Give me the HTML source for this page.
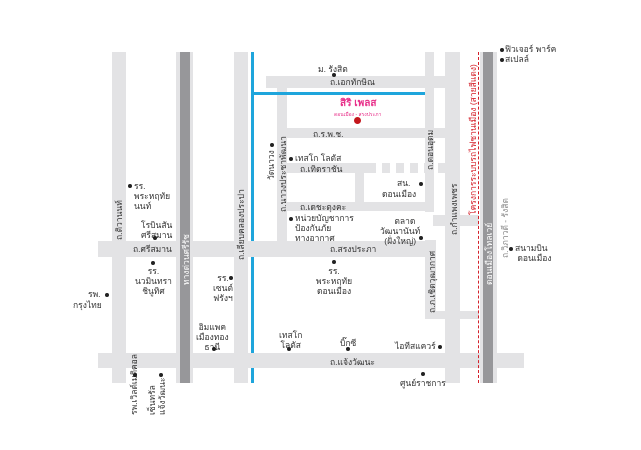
<!DOCTYPE html>
<html><head><meta charset="utf-8"><style>
body{margin:0;width:641px;height:450px;background:#fff;position:relative;overflow:hidden;font-family:"Liberation Sans","Noto Sans CJK SC",sans-serif;font-size:8.5px;color:#333;}
.r{position:absolute;background:#e3e3e5}
.d{position:absolute;background:#97979a}
.t{position:absolute;line-height:10px;white-space:nowrap}
.v{position:absolute;white-space:nowrap;transform:rotate(-90deg);transform-origin:0 0;line-height:10px}
.p{position:absolute;width:4px;height:4px;border-radius:50%;background:#222}
</style></head><body>
<!-- horizontal roads -->
<div class="r" style="left:98px;top:241px;width:334px;height:16px"></div>
<div class="r" style="left:98px;top:353px;width:426px;height:15px"></div>
<div class="r" style="left:266px;top:76px;width:180px;height:12px"></div>
<div class="r" style="left:282px;top:128px;width:163px;height:10px"></div>
<div class="r" style="left:282px;top:163px;width:145px;height:10px"></div>
<div class="r" style="left:282px;top:202px;width:145px;height:9px"></div>
<div class="r" style="left:433px;top:215px;width:46px;height:11px"></div>
<div class="r" style="left:425px;top:311px;width:54px;height:8px"></div>
<div class="r" style="left:355px;top:173px;width:9px;height:30px"></div>
<div style="position:absolute;left:368px;top:163px;width:92px;height:10px;background:repeating-linear-gradient(90deg,#e3e3e5 0 8px,#fff 8px 14px)"></div>
<!-- vertical roads -->
<div class="r" style="left:112px;top:52px;width:14px;height:331px"></div>
<div class="r" style="left:176px;top:52px;width:17px;height:331px"></div>
<div class="d" style="left:180px;top:52px;width:10px;height:331px"></div>
<div class="r" style="left:234px;top:52px;width:14px;height:331px"></div>
<div class="r" style="left:277px;top:80px;width:10px;height:165px"></div>
<div class="r" style="left:425px;top:52px;width:9px;height:160px"></div>
<div class="r" style="left:425px;top:240px;width:11px;height:78px"></div>
<div class="r" style="left:445px;top:52px;width:15px;height:331px"></div>
<div class="r" style="left:480px;top:52px;width:17px;height:331px"></div>
<div class="d" style="left:483px;top:52px;width:10px;height:331px"></div>
<!-- blue -->
<div style="position:absolute;left:251px;top:52px;width:3px;height:331px;background:#1ea5dc"></div>
<div style="position:absolute;left:251px;top:241px;width:3px;height:16px;background:#e3e3e5"></div>
<div style="position:absolute;left:251px;top:353px;width:3px;height:15px;background:#e3e3e5"></div>
<div style="position:absolute;left:254px;top:92px;width:171px;height:3px;background:#1ea5dc"></div>
<!-- red dotted -->
<div style="position:absolute;left:478px;top:52px;width:0;height:331px;border-left:1.5px dashed #d4202a"></div>
<!-- labels -->
<div class="t" style="left:318px;top:64px">ม. รังสิต</div><div class="p" style="left:332px;top:73px"></div>
<div class="t" style="left:330px;top:77px">ถ.เอกทักษิณ</div>
<div class="t" style="left:340px;top:99px;color:#e8308a;font-weight:bold;font-size:10px">สิริ เพลส</div>
<div class="t" style="left:334px;top:110px;color:#e8308a;font-size:5px">ดอนเมือง - สรงประภา</div>
<div style="position:absolute;left:354px;top:117px;width:7px;height:7px;border-radius:50%;background:#c4161c"></div>
<div class="t" style="left:313px;top:129px">ถ.ร.พ.ช.</div>
<div class="p" style="left:289px;top:157px"></div><div class="t" style="left:295px;top:153px">เทสโก โลตัส</div>
<div class="t" style="left:300px;top:164px">ถ.เทิดราชัน</div>
<div class="t" style="left:300px;top:202px">ถ.เดชะตุงคะ</div>
<div class="t" style="left:397px;top:178px">สน.</div><div class="p" style="left:419px;top:182px"></div>
<div class="t" style="left:382px;top:189px">ดอนเมือง</div>
<div class="p" style="left:289px;top:217px"></div><div class="t" style="left:295px;top:213px;line-height:10px">หน่วยบัญชาการ<br>ป้องกันภัย<br>ทางอากาศ</div>
<div class="t" style="left:330px;top:244px">ถ.สรงประภา</div>
<div class="t" style="left:133px;top:244px">ถ.ศรีสมาน</div>
<div class="t" style="left:380px;top:216px;text-align:center;line-height:10px">&nbsp;&nbsp;&nbsp;&nbsp;ตลาด<br>วัฒนานันท์<br>(ฝั่งใหญ่)</div><div class="p" style="left:419px;top:236px"></div>
<div class="p" style="left:332px;top:260px"></div><div class="t" style="left:316px;top:266px;text-align:center">รร.<br>พระหฤทัย<br>ดอนเมือง</div>
<div class="p" style="left:128px;top:184px"></div><div class="t" style="left:134px;top:181px">รร.<br>พระหฤทัย<br>นนท์</div>
<div class="t" style="left:141px;top:220px">โรบินสัน<br>ศรีสมาน</div><div class="p" style="left:153px;top:236px"></div>
<div class="p" style="left:151px;top:261px"></div><div class="t" style="left:135px;top:266px;text-align:center">รร.<br>นวมินทรา<br>ชินูทิศ</div>
<div class="t" style="left:88px;top:289px">รพ.</div><div class="p" style="left:105px;top:293px"></div>
<div class="t" style="left:73px;top:300px">กรุงไทย</div>
<div class="t" style="left:213px;top:273px;text-align:center">รร.<br>เซนต์<br>ฟรังฯ</div><div class="p" style="left:229px;top:276px"></div>
<div class="t" style="left:196px;top:322px;text-align:center">อิมแพค<br>เมืองทอง<br>ธานี</div><div class="p" style="left:212px;top:347px"></div>
<div class="t" style="left:279px;top:330px;text-align:center">เทสโก<br>โลตัส</div><div class="p" style="left:287px;top:347px"></div>
<div class="t" style="left:340px;top:338px">บิ๊กซี</div><div class="p" style="left:346px;top:347px"></div>
<div class="t" style="left:395px;top:341px">ไอทีสแควร์</div><div class="p" style="left:438px;top:345px"></div>
<div class="t" style="left:330px;top:357px">ถ.แจ้งวัฒนะ</div>
<div class="p" style="left:421px;top:372px"></div><div class="t" style="left:400px;top:378px">ศูนย์ราชการ</div>
<div class="p" style="left:509px;top:247px"></div><div class="t" style="left:515px;top:243px">สนามบิน<br>&nbsp;ดอนเมือง</div>
<div class="p" style="left:500px;top:48px"></div><div class="t" style="left:505px;top:44px">ฟิวเจอร์ พาร์ค</div>
<div class="p" style="left:500px;top:58px"></div><div class="t" style="left:505px;top:54px">สเปลล์</div>
<!-- vertical labels -->
<div class="v" style="left:114px;top:240px">ถ.ติวานนท์</div>
<div class="v" style="left:181px;top:285px;color:#fff">ทางด่วนศรีรัช</div>
<div class="v" style="left:236px;top:260px">ถ.เลียบคลองประปา</div>
<div class="v" style="left:266px;top:180px">วัดนาวง</div><div class="p" style="left:270px;top:143px"></div>
<div class="v" style="left:278px;top:212px">ถ.นาวงประชาพัฒนา</div>
<div class="v" style="left:425px;top:170px">ถ.ดอนอุดม</div>
<div class="v" style="left:449px;top:235px">ถ.กำแพงเพชร</div>
<div class="v" style="left:427px;top:313px">ถ.ภ.เชิดวุฒากาศ</div>
<div class="v" style="left:468px;top:215px;color:#d4202a">โครงการระบบรถไฟชานเมือง (สายสีแดง)</div>
<div class="v" style="left:484px;top:285px;color:#fff">ดอนเมืองโทลเวย์</div>
<div class="v" style="left:500px;top:258px;color:#888">ถ.วิภาวดี - รังสิต</div>
<div class="v" style="left:129px;top:415px">รพ.เวิลด์เมดิคอล</div><div class="p" style="left:133px;top:373px"></div>
<div class="v" style="left:147px;top:415px">เซ็นทรัล<br>แจ้งวัฒนะ</div><div class="p" style="left:159px;top:373px"></div>
</body></html>
